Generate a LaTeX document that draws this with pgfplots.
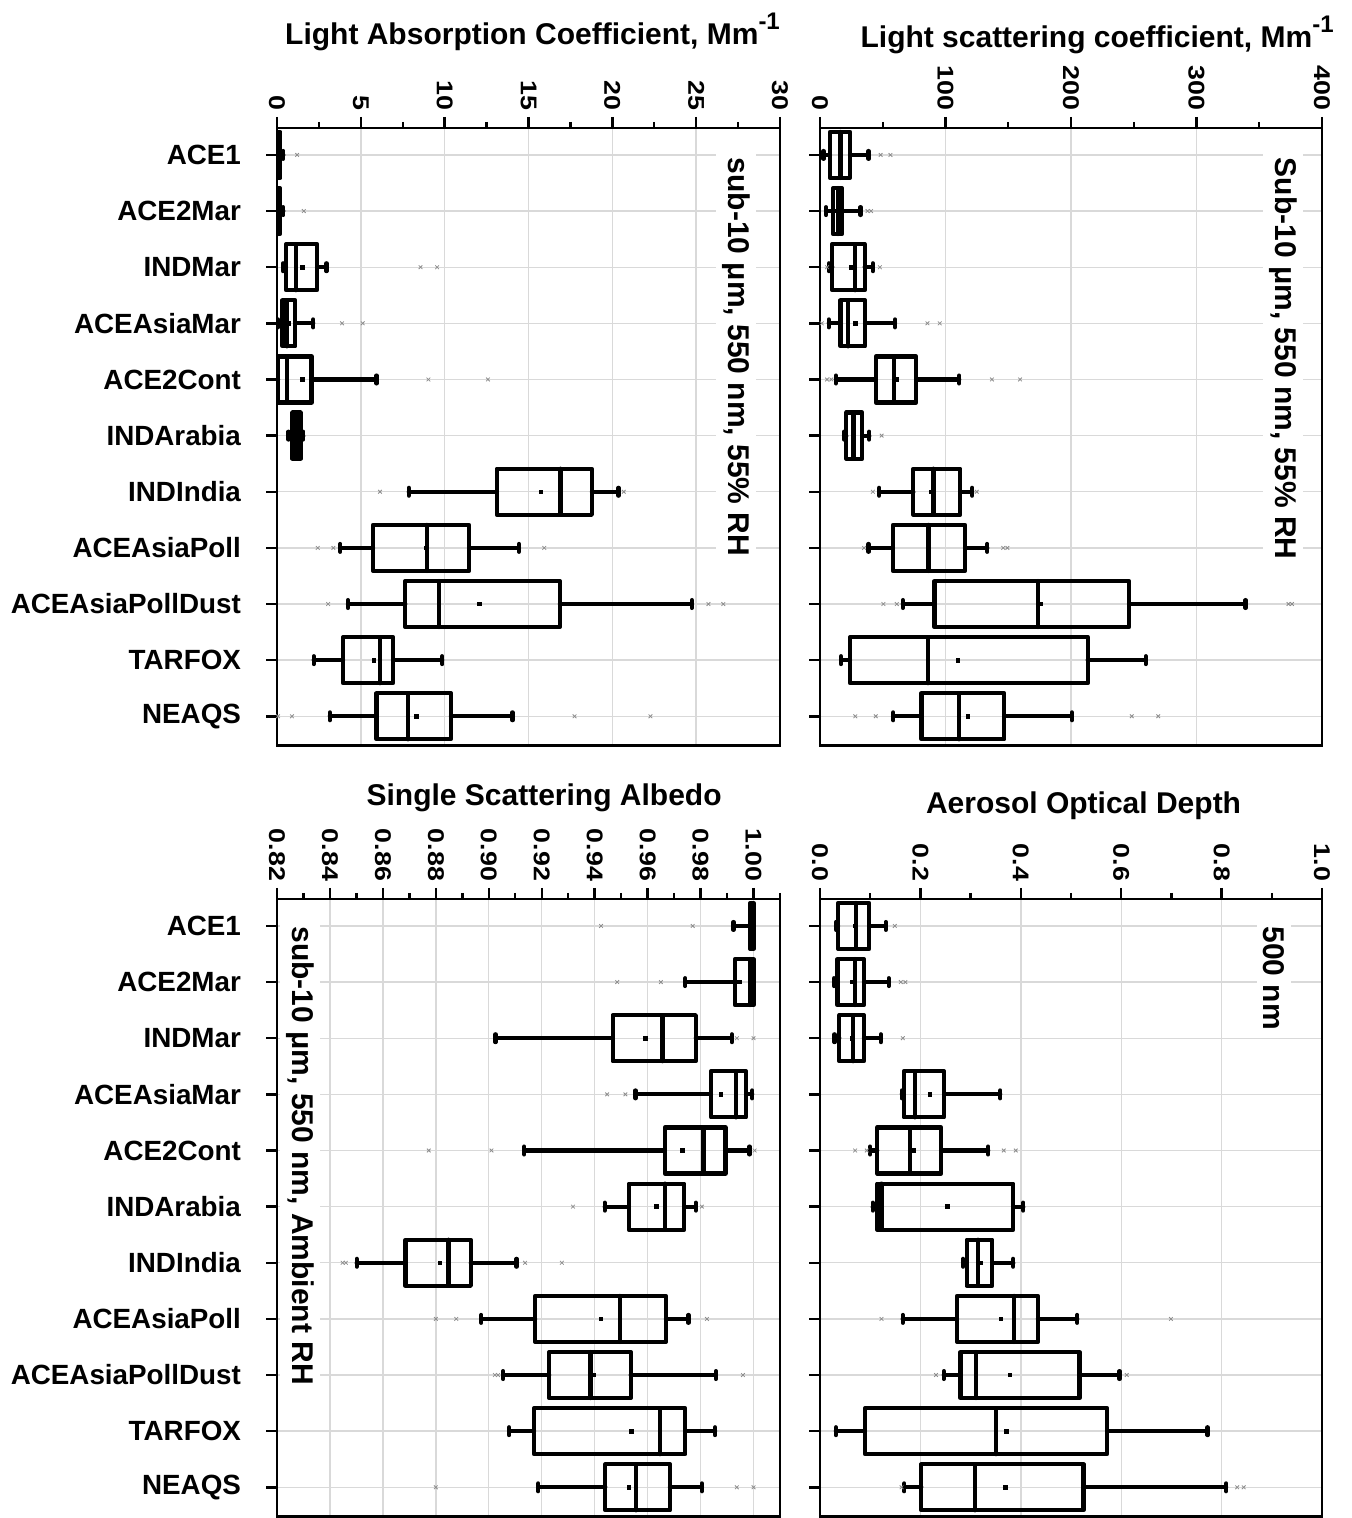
\documentclass[border=0pt]{standalone}
\usepackage{fontspec}
\setmainfont{Liberation Sans}
\usepackage{graphicx}
\usepackage{pgfplots}
\pgfplotsset{compat=1.18}
\usepgfplotslibrary{statistics}

\newcommand\tfont{\bfseries\fontsize{15}{18}\selectfont}
\newcommand\tl[1]{\scalebox{1}[0.85]{#1}}
\newcommand\bp[6]{\addplot[bx, boxplot prepared={draw position=#1, lower whisker=#2, lower quartile=#3, median=#4, upper quartile=#5, upper whisker=#6}] coordinates {};}

\tikzset{ann/.style={rotate=-90, anchor=base west, fill=white, inner sep=3pt, font=\tfont}}
\pgfplotsset{
  every axis title/.style={anchor=base, font=\tfont},
  bx/.style={black, line width=2.1pt, line join=round, line cap=round, mark=none,
    boxplot/draw direction=x, boxplot/box extend=0.82, boxplot/whisker extend=0.14,
    boxplot/every box/.append style={line width=2.1pt},
    boxplot/every median/.append style={line width=2.1pt},
    boxplot/every whisker/.append style={line width=2.1pt}},
  avg/.style={only marks, mark=square*, mark size=0.9pt, black},
  outl/.style={only marks, mark=x, mark size=1.3pt, black!45, mark options={line width=0.4pt}},
  panel/.style={
    scale only axis, width=251.5pt, height=308.75pt, anchor=north west,
    y dir=reverse, ymin=0.52, ymax=11.52, ytick={1,...,11},
    xtick pos=right, xticklabel pos=right, ytick pos=left,
    tick align=outside, major tick length=5.5pt, minor tick length=3pt,
    minor x tick num=1,
    grid=major, major grid style={black!15, line width=0.7pt},
    axis line style={line width=1.2pt},
    major tick style={black, line width=1.2pt},
    minor tick style={black, line width=1.2pt},
    xticklabel style={rotate=-90, anchor=east, font=\bfseries\fontsize{13.4}{13.4}\selectfont},
    yticklabel style={xshift=-9pt, font=\bfseries\fontsize{13.9}{14}\selectfont},
  },
}

\begin{document}
\begin{tikzpicture}
\useasboundingbox (0,0) rectangle (675.5pt,759pt);

% ---------------- Top left: absorption
\begin{axis}[panel, at={(138.5pt,695pt)},
  xmin=0, xmax=30, xtick={0,5,10,15,20,25,30},
  xticklabels={\tl{0},\tl{5},\tl{10},\tl{15},\tl{20},\tl{25},\tl{30}},
  yticklabels={ACE1,ACE2Mar,INDMar,ACEAsiaMar,ACE2Cont,INDArabia,INDIndia,ACEAsiaPoll,ACEAsiaPollDust,TARFOX,NEAQS},
  title={Light Absorption Coefficient, Mm\raisebox{0.5em}{\fontsize{12}{12}\selectfont -1}},
  title style={at={(0.508,1.136)}}]
\bp{1}{0}{0.04}{0.1}{0.2}{0.38}
\bp{2}{0}{0.03}{0.08}{0.17}{0.38}
\bp{3}{0.37}{0.54}{1.13}{2.39}{2.95}
\bp{4}{0.06}{0.33}{0.58}{1.09}{2.16}
\bp{5}{0}{0.06}{0.58}{2.06}{5.94}
\bp{6}{0.68}{0.93}{1.1}{1.4}{1.57}
\bp{7}{7.86}{13.11}{16.91}{18.78}{20.37}
\bp{8}{3.77}{5.73}{8.93}{11.46}{14.43}
\bp{9}{4.23}{7.65}{9.65}{16.87}{24.74}
\bp{10}{2.19}{3.94}{6.14}{6.93}{9.86}
\bp{11}{3.15}{5.94}{7.79}{10.37}{14.04}
\addplot[avg] coordinates {(0.15,1) (0.12,2) (1.5,3) (0.7,4) (1.5,5) (1.15,6) (15.73,7) (8.9,8) (12.08,9) (5.79,10) (8.31,11)};
\addplot[outl] coordinates {(1.2,1) (1.6,2) (8.56,3) (9.55,3) (3.88,4) (5.11,4) (9.03,5) (12.58,5)
  (6.14,7) (20.68,7) (2.43,8) (3.36,8) (15.94,8) (3.05,9) (25.73,9) (26.62,9)
  (0.06,11) (0.89,11) (17.75,11) (22.27,11)};
\node[ann] at (axis description cs:0.897,0.962) {sub-10 μm, 550 nm, 55\% RH};
\end{axis}

% ---------------- Top right: scattering
\begin{axis}[panel, at={(410pt,695pt)}, width=251pt,
  xmin=0, xmax=400, xtick={0,100,200,300,400},
  xticklabels={\tl{0},\tl{100},\tl{200},\tl{300},\tl{400}},
  yticklabels={},
  title={Light scattering coefficient, Mm\raisebox{0.5em}{\fontsize{12}{12}\selectfont -1}},
  title style={at={(0.552,1.130)}}]
\bp{1}{2.8}{7.9}{16.3}{23.9}{38.7}
\bp{2}{4.8}{10.4}{14.6}{17.4}{32.3}
\bp{3}{7.0}{9.8}{28.1}{35.6}{42.1}
\bp{4}{7.0}{16.3}{22.5}{35.9}{59.8}
\bp{5}{12.6}{44.4}{58.9}{76.6}{110.9}
\bp{6}{19.1}{21}{26.7}{33.7}{39.3}
\bp{7}{47.2}{74.4}{90.4}{111.7}{121.3}
\bp{8}{38.7}{58.1}{86.5}{115.6}{133.3}
\bp{9}{66}{91.2}{174}{246.2}{339.1}
\bp{10}{16.8}{23.9}{86.2}{213.3}{259.6}
\bp{11}{58.4}{80.8}{110.9}{146.8}{200.7}
\addplot[avg] coordinates {(16.3,1) (14,2) (24.7,3) (28.1,4) (61.2,5) (27,6) (88.4,7) (86,8) (175.4,9) (110,10) (117.9,11)};
\addplot[outl] coordinates {(48.3,1) (56.1,1) (37.9,2) (40.7,2) (5.6,3) (47.7,3) (1.4,4) (85.6,4) (95.4,4)
  (5.6,5) (9.0,5) (137,5) (159.4,5) (49.1,6) (42.1,7) (124.9,7) (35.1,8) (146,8) (149.3,8)
  (50.5,9) (61.2,9) (373.3,9) (376.1,9) (28.1,11) (44.4,11) (248.4,11) (269.5,11)};
\node[ann] at (axis description cs:0.907,0.962) {Sub-10 μm, 550 nm, 55\% RH};
\end{axis}

% ---------------- Bottom left: SSA
\begin{axis}[panel, at={(138.5pt,309.5pt)},
  xmin=0.82, xmax=1.01,
  xtick={0.82,0.84,0.86,0.88,0.90,0.92,0.94,0.96,0.98,1.00},
  minor xtick={0.83,0.85,0.87,0.89,0.91,0.93,0.95,0.97,0.99,1.01},
  xticklabels={\tl{0.82},\tl{0.84},\tl{0.86},\tl{0.88},\tl{0.90},\tl{0.92},\tl{0.94},\tl{0.96},\tl{0.98},\tl{1.00}},
  yticklabels={ACE1,ACE2Mar,INDMar,ACEAsiaMar,ACE2Cont,INDArabia,INDIndia,ACEAsiaPoll,ACEAsiaPollDust,TARFOX,NEAQS},
  title={Single Scattering Albedo},
  title style={at={(0.531,1.152)}}]
\bp{1}{0.9924}{0.9988}{0.9995}{1.0}{1.0}
\bp{2}{0.9742}{0.993}{0.9987}{1.0}{1.0}
\bp{3}{0.9025}{0.9468}{0.9656}{0.9782}{0.9918}
\bp{4}{0.9554}{0.9839}{0.9934}{0.9972}{0.9995}
\bp{5}{0.9134}{0.9665}{0.9811}{0.9894}{0.9985}
\bp{6}{0.9438}{0.9529}{0.9666}{0.9738}{0.9782}
\bp{7}{0.8501}{0.8685}{0.8848}{0.8932}{0.9105}
\bp{8}{0.8972}{0.9175}{0.9495}{0.9669}{0.9754}
\bp{9}{0.9054}{0.9228}{0.9384}{0.9536}{0.9858}
\bp{10}{0.9077}{0.9171}{0.9646}{0.9742}{0.9855}
\bp{11}{0.9187}{0.944}{0.9557}{0.9684}{0.9805}
\addplot[avg] coordinates {(0.999,1) (0.9946,2) (0.9592,3) (0.9877,4) (0.9731,5) (0.9634,6) (0.8816,7) (0.9424,8) (0.9396,9) (0.9538,10) (0.9529,11)};
\addplot[outl] coordinates {(0.977,1) (0.9424,1) (0.965,2) (0.9485,2) (0.9937,3) (1.0,3) (0.9516,4) (0.9447,4)
  (0.8773,5) (0.901,5) (1.0004,5) (0.9318,6) (0.9805,6) (0.8448,7) (0.846,7) (0.9137,7) (0.9276,7)
  (0.88,8) (0.8877,8) (0.9824,8) (0.9023,9) (0.9035,9) (0.996,9) (0.88,11) (0.9937,11) (1.0,11)};
\node[ann] at (axis description cs:0.030,0.966) {sub-10 μm, 550 nm, Ambient RH};
\end{axis}

% ---------------- Bottom right: AOD
\begin{axis}[panel, at={(410pt,309.5pt)}, width=251pt,
  xmin=0, xmax=1, xtick={0,0.2,0.4,0.6,0.8,1.0},
  xticklabels={\tl{0.0},\tl{0.2},\tl{0.4},\tl{0.6},\tl{0.8},\tl{1.0}},
  yticklabels={},
  title={Aerosol Optical Depth},
  title style={at={(0.525,1.138)}}]
\bp{1}{0.032}{0.036}{0.071}{0.098}{0.131}
\bp{2}{0.028}{0.035}{0.070}{0.0875}{0.137}
\bp{3}{0.029}{0.0385}{0.0665}{0.0875}{0.121}
\bp{4}{0.163}{0.1667}{0.189}{0.247}{0.359}
\bp{5}{0.100}{0.114}{0.1786}{0.2416}{0.335}
\bp{6}{0.105}{0.114}{0.1225}{0.385}{0.405}
\bp{7}{0.285}{0.292}{0.315}{0.343}{0.385}
\bp{8}{0.1646}{0.273}{0.3866}{0.434}{0.5126}
\bp{9}{0.2465}{0.280}{0.310}{0.517}{0.5966}
\bp{10}{0.0315}{0.0896}{0.350}{0.572}{0.772}
\bp{11}{0.168}{0.2017}{0.308}{0.525}{0.809}
\addplot[avg] coordinates {(0.07,1) (0.065,2) (0.065,3) (0.219,4) (0.187,5) (0.2535,6) (0.320,7) (0.3606,8) (0.378,9) (0.371,10) (0.369,11)};
\addplot[outl] coordinates {(0.149,1) (0.161,2) (0.170,2) (0.165,3) (0.07,5) (0.093,5) (0.366,5) (0.390,5)
  (0.1225,8) (0.699,8) (0.231,9) (0.611,9) (0.1625,11) (0.831,11) (0.844,11)};
\node[ann] at (axis description cs:0.884,0.966) {500 nm};
\end{axis}
\end{tikzpicture}
\end{document}
